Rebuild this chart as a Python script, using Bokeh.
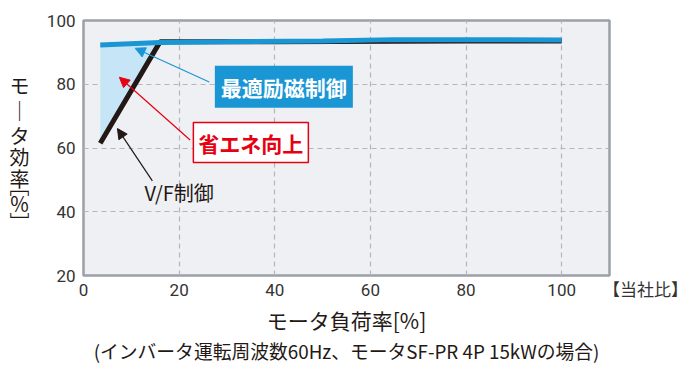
from bokeh.plotting import figure
from bokeh.models import Range1d, FixedTicker, Label, Arrow, NormalHead, Title, LinearAxis
from bokeh.embed import file_html
from bokeh.resources import INLINE

# ---- data ----
load_opt = [3.5, 16, 30, 50, 65, 80, 100]
eff_opt = [92.3, 93.1, 93.3, 93.6, 94.0, 94.0, 93.9]
load_vf = [3.5, 16, 40, 65, 80, 100]
eff_vf = [61.5, 93.3, 93.3, 93.5, 93.6, 93.6]
gain_x = [3.5, 16]
gain_lo = [61.5, 93.1]
gain_hi = [92.3, 93.1]
x_ticks = [0, 20, 40, 60, 80, 100]
y_ticks = [20, 40, 60, 80, 100]
x_note = "　　　　 【当社比】"
y_title_chars = ["モ", "｜", "タ", "効", "率", "﹇", "％", "﹈"]
x_title = "モータ負荷率[%]"
x_subtitle = "(インバータ運転周波数60Hz、モータSF-PR 4P 15kWの場合)"

JP = "Noto Sans CJK JP"
NUM = "Roboto, Noto Sans CJK JP"
INK = "#231815"

p = figure(width=690, height=368, output_backend="svg", toolbar_location=None,
           x_range=Range1d(0, 110), y_range=Range1d(20, 100),
           min_border_left=83, min_border_right=81, min_border_top=20, min_border_bottom=93)
p.background_fill_color = "#eff0f4"
p.border_fill_color = "white"
p.outline_line_color = "#9aa0a6"
p.outline_line_width = 2.5

for ax in (p.xaxis, p.yaxis):
    ax.axis_line_color = None
    ax.major_tick_line_color = None
    ax.minor_tick_line_color = None
    ax.major_tick_out = 0
    ax.major_tick_in = 0
    ax.major_label_text_font = NUM
    ax.major_label_text_font_size = "17px"
    ax.major_label_text_color = "#333333"
p.xaxis.ticker = FixedTicker(ticks=x_ticks + [110])
p.xaxis.major_label_overrides = {110: x_note}
p.yaxis.ticker = FixedTicker(ticks=y_ticks)
p.xaxis.major_label_standoff = 4
p.yaxis.major_label_standoff = 8

# vertical-writing y title as a second left axis
ytitle_pos = [79.7, 71.8, 63.9, 57.3, 50.4, 48.3, 42.5, 36.7]
yt_axis = LinearAxis(ticker=FixedTicker(ticks=ytitle_pos),
                     major_label_overrides={v: c for v, c in zip(ytitle_pos, y_title_chars)},
                     axis_line_color=None, major_tick_line_color=None, minor_tick_line_color=None,
                     major_label_standoff=8, major_label_text_font=JP,
                     major_label_text_font_size="20px", major_label_text_color=INK)
p.add_layout(yt_axis, "left")

p.xgrid.ticker = FixedTicker(ticks=[20, 40, 60, 80, 100])
p.ygrid.ticker = FixedTicker(ticks=[40, 60, 80])
for g in (p.xgrid, p.ygrid):
    g.grid_line_color = "#b4b6ba"
    g.grid_line_dash = "5 4"
    g.grid_line_width = 1.2

p.varea(x=gain_x, y1=gain_lo, y2=gain_hi, fill_color="#c6e6f8")
p.line(load_vf, eff_vf, line_color=INK, line_width=5)
p.line(load_opt, eff_opt, line_color="#1a96d4", line_width=5)

# arrows
p.add_layout(Arrow(x_start=26.3, y_start=80.7, x_end=10.8, y_end=91.3,
                   line_color="#1a96d4", line_width=1.2,
                   end=NormalHead(size=10, fill_color="#1a96d4", line_color="#1a96d4")))
p.add_layout(Arrow(x_start=22.3, y_start=62.5, x_end=7.5, y_end=82.2,
                   line_color="#e60012", line_width=1.2,
                   end=NormalHead(size=10, fill_color="#e60012", line_color="#e60012")))
p.add_layout(Arrow(x_start=14.4, y_start=49.7, x_end=7.1, y_end=66.1,
                   line_color=INK, line_width=1.2,
                   end=NormalHead(size=10, fill_color=INK, line_color=INK)))

# boxes
p.add_layout(Label(x=41.9, y=79.2, text="最適励磁制御", text_align="center", text_baseline="middle",
                   text_font=JP, text_font_size="21px", text_font_style="bold", text_color="white",
                   background_fill_color="#1a96d4", padding=6))
p.add_layout(Label(x=35, y=61.7, text="省エネ向上", text_align="center", text_baseline="middle",
                   text_font=JP, text_font_size="21px", text_font_style="bold", text_color="#e60012",
                   background_fill_color="white", border_line_color="#e60012", border_line_width=1.5,
                   padding=5))
p.add_layout(Label(x=20, y=46, text="V/F制御", text_align="center", text_baseline="middle",
                   text_font=JP, text_font_size="20px", text_color=INK))

# x titles (first added is closest to the axis)
p.add_layout(Title(text=x_title, align="center", standoff=1,
                   text_font=JP, text_font_size="21px", text_font_style="normal", text_color=INK), "below")
p.add_layout(Title(text=x_subtitle, align="center", standoff=-2,
                   text_font=JP, text_font_size="18.8px", text_font_style="normal", text_color=INK), "below")

open("out.html", "w").write(file_html(p, INLINE))
